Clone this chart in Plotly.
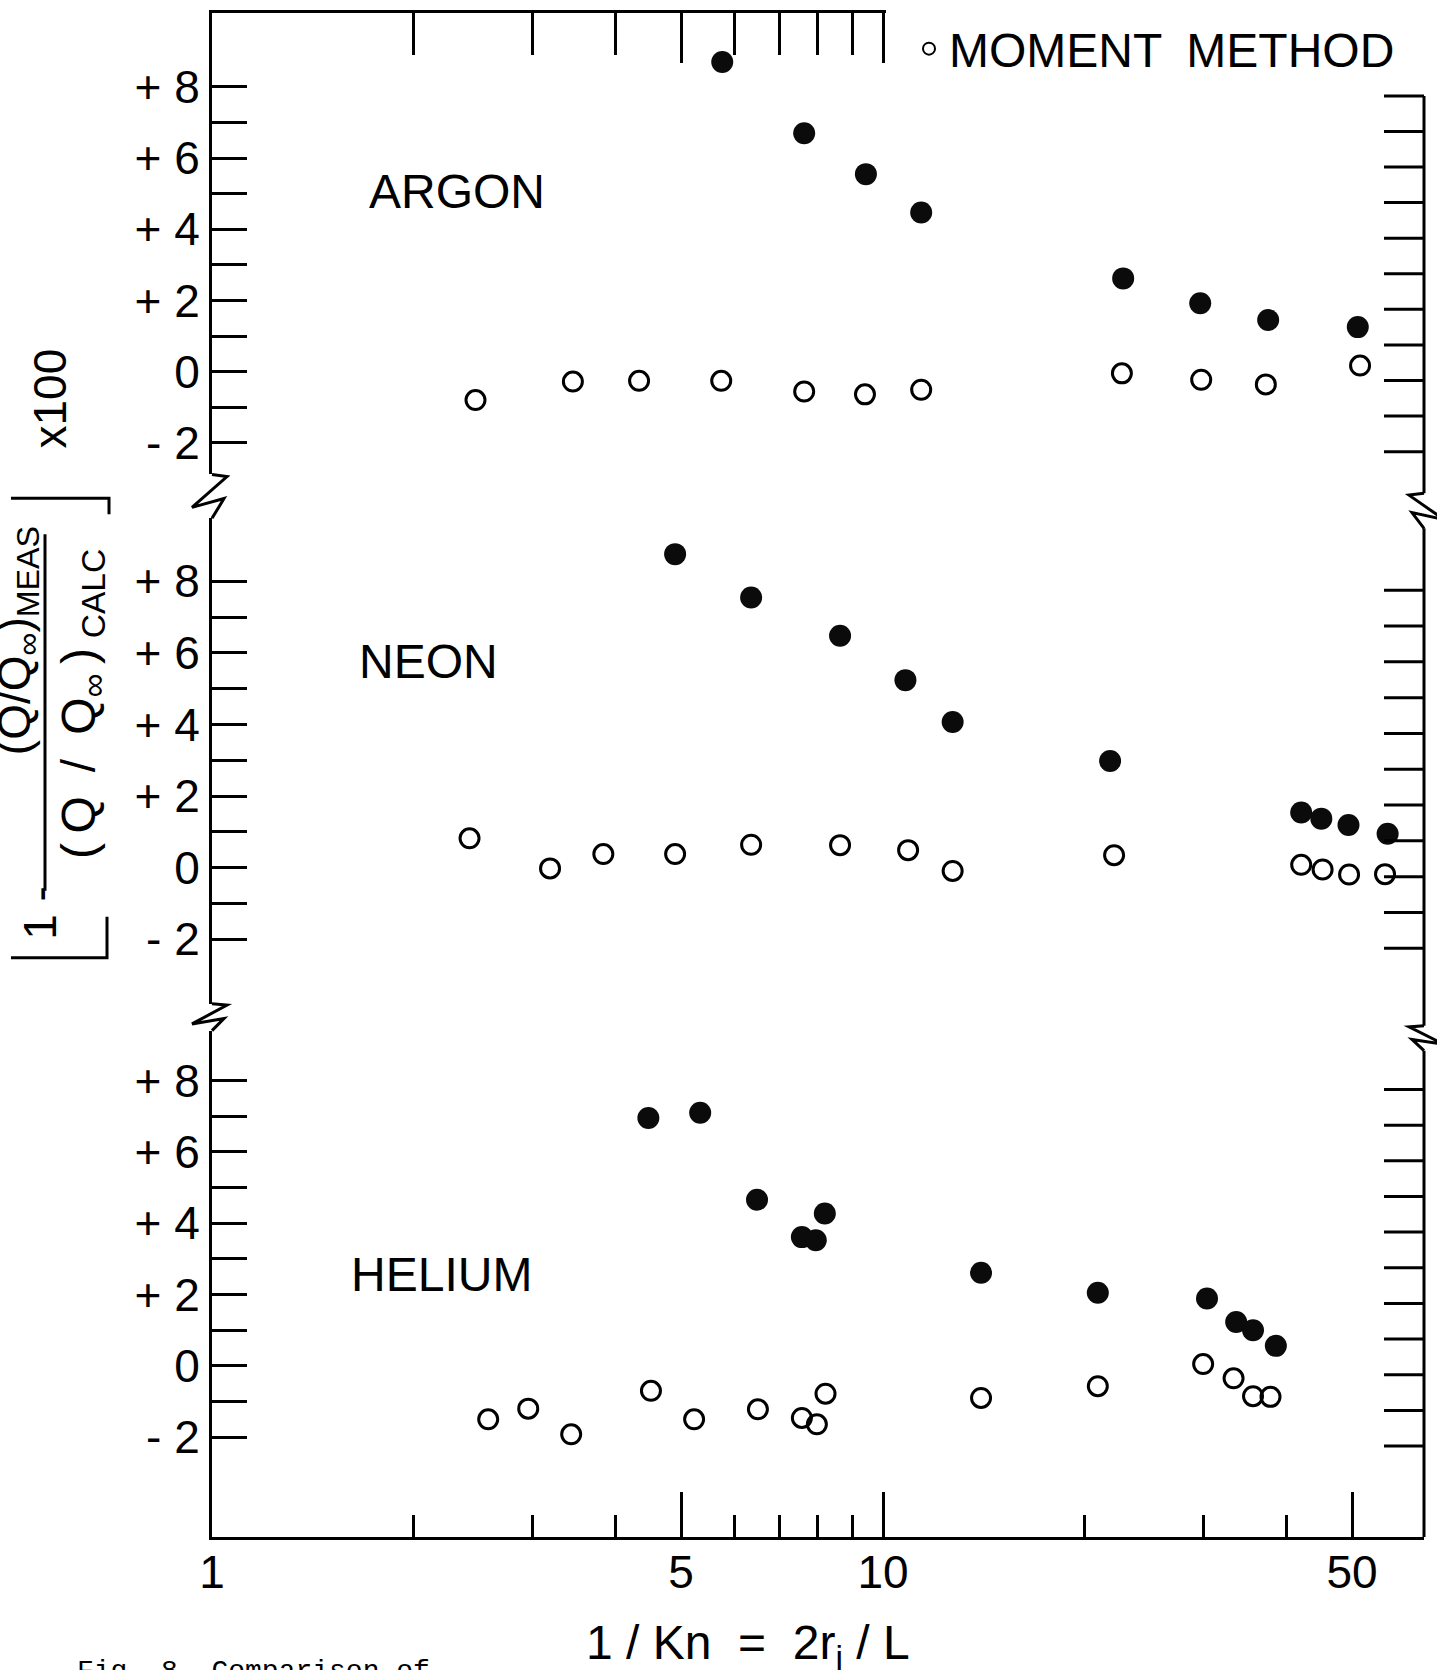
import math
import plotly.graph_objects as go

# ---------------- data ----------------
# x = 1/Kn = 2 r_j / L ; y = [1 - (Q/Qinf)meas / (Q/Qinf)calc] x 100
ARGON_MOMENT_X = [2.47, 3.45, 4.33, 5.74, 7.63, 9.40, 11.4, 22.7, 29.8, 37.2, 51.4]
ARGON_MOMENT_Y = [-0.80, -0.28, -0.26, -0.26, -0.56, -0.64, -0.51, -0.05, -0.23, -0.36, 0.17]
ARGON_OTHER_X = [5.76, 7.63, 9.43, 11.4, 22.8, 29.7, 37.5, 51.0]
ARGON_OTHER_Y = [8.70, 6.70, 5.55, 4.47, 2.62, 1.92, 1.45, 1.25]

NEON_MOMENT_X = [2.42, 3.19, 3.83, 4.90, 6.36, 8.63, 10.9, 12.7, 22.1, 42.0, 45.2, 49.5, 56.0]
NEON_MOMENT_Y = [0.82, -0.02, 0.38, 0.38, 0.64, 0.63, 0.49, -0.09, 0.35, 0.08, -0.05, -0.19, -0.18]
NEON_OTHER_X = [4.90, 6.36, 8.63, 10.8, 12.7, 21.8, 42.0, 45.0, 49.4, 56.5]
NEON_OTHER_Y = [8.76, 7.55, 6.48, 5.24, 4.07, 2.98, 1.54, 1.37, 1.19, 0.95]

HELIUM_MOMENT_X = [2.58, 2.96, 3.43, 4.51, 5.23, 6.51, 7.57, 7.97, 8.21, 14.0, 20.9, 30.0, 33.3, 35.6, 37.8]
HELIUM_MOMENT_Y = [-1.50, -1.20, -1.92, -0.70, -1.50, -1.22, -1.46, -1.64, -0.78, -0.90, -0.57, 0.05, -0.35, -0.85, -0.87]
HELIUM_OTHER_X = [4.47, 5.34, 6.49, 7.57, 7.94, 8.19, 14.0, 20.9, 30.4, 33.6, 35.6, 38.5]
HELIUM_OTHER_Y = [6.95, 7.10, 4.66, 3.61, 3.52, 4.27, 2.61, 2.05, 1.89, 1.23, 1.00, 0.56]

PANEL_NAMES = ["ARGON", "NEON", "HELIUM"]
LEGEND_NAME = "MOMENT\u2002METHOD"

X_MAJOR = [1, 5, 10, 50]
X_MAJOR_LABELS = ["1", "5", "10", "50"]
X_MINOR = [2, 3, 4, 6, 7, 8, 9, 20, 30, 40]
TOP_MAJOR = [5, 10]
TOP_MINOR = [2, 3, 4, 6, 7, 8, 9]
Y_TICKS = [-2, -1, 0, 1, 2, 3, 4, 5, 6, 7, 8]
Y_LABELS = ["- 2", "", "0", "", "+ 2", "", "+ 4", "", "+ 6", "", "+ 8"]
RIGHT_TICK_SKEW = 0.25   # the scanned original is slightly rotated

# ---------------- geometry ----------------
W, H = 1437, 1670
L, R, T, B = 212, 13, 11, 133
PW, PH = W - L - R, H - T - B
DECADE = 671.0
FONT = "Liberation Sans"


def px(p):
    return (p - L) / PW


def py(p):
    return (H - B - p) / PH


fig = go.Figure()

panels = [
    ("y3", ARGON_MOMENT_X, ARGON_MOMENT_Y, ARGON_OTHER_X, ARGON_OTHER_Y),
    ("y2", NEON_MOMENT_X, NEON_MOMENT_Y, NEON_OTHER_X, NEON_OTHER_Y),
    ("y", HELIUM_MOMENT_X, HELIUM_MOMENT_Y, HELIUM_OTHER_X, HELIUM_OTHER_Y),
]
for i, (ya, mx, my, ox, oy) in enumerate(panels):
    fig.add_trace(go.Scatter(
        x=ox, y=oy, xaxis="x", yaxis=ya, mode="markers", name="other",
        showlegend=False,
        marker=dict(symbol="circle", size=22, color="#0b0b0b")))
    fig.add_trace(go.Scatter(
        x=mx, y=my, xaxis="x", yaxis=ya, mode="markers", name=LEGEND_NAME,
        showlegend=(i == 0),
        marker=dict(symbol="circle-open", size=19, color="black",
                    line=dict(width=3, color="black"))))

common = dict(showgrid=False, zeroline=False, showline=True, linecolor="black",
              linewidth=3, ticks="inside", tickcolor="black", tickwidth=3)
yleft = dict(common, anchor="x", side="left", tickmode="array", tickvals=Y_TICKS,
             ticktext=Y_LABELS, ticklen=35, tickfont=dict(size=46, family=FONT, color="black"))

xmax_log = PW / DECADE
top_end = math.log10(10.1)

# decorative axes (top border, bottom minor ticks) need a trace to be drawn
fig.add_trace(go.Scatter(x=[None], y=[None], xaxis="x2", yaxis="y3", mode="markers",
                         showlegend=False, hoverinfo="skip"))
fig.add_trace(go.Scatter(x=[None], y=[None], xaxis="x3", yaxis="y", mode="markers",
                         showlegend=False, hoverinfo="skip"))

fig.update_layout(
    width=W, height=H,
    margin=dict(l=L, r=R, t=T, b=B),
    paper_bgcolor="white", plot_bgcolor="rgba(0,0,0,0)",
    font=dict(family=FONT, color="black", size=46),
    xaxis=dict(common, type="log", domain=[0, 1], range=[0, xmax_log], anchor="y",
               tickmode="array", tickvals=X_MAJOR, ticktext=X_MAJOR_LABELS, ticklen=45,
               tickfont=dict(size=46, family=FONT, color="black"), ticklabelstandoff=-7),
    xaxis2=dict(common, type="log", domain=[0, top_end / xmax_log], range=[0, top_end],
                anchor="y3", side="top", tickmode="array", tickvals=TOP_MAJOR, ticklen=50,
                showticklabels=False,
                minor=dict(tickmode="array", tickvals=TOP_MINOR, ticks="inside", ticklen=42,
                           tickwidth=3, tickcolor="black")),
    xaxis3=dict(common, type="log", domain=[0, 1], range=[0, xmax_log], anchor="y",
                side="bottom", showline=False, tickmode="array", tickvals=X_MINOR,
                ticklen=22, showticklabels=False),
    yaxis=dict(yleft, domain=[0, py(1030)], range=[-4.80, 9.40]),
    yaxis2=dict(yleft, domain=[py(1003), py(517)], range=[-3.80, 9.76]),
    yaxis3=dict(yleft, domain=[py(473), 1], range=[-2.89, 10.08]),
    legend=dict(x=px(909), y=py(47), xanchor="left", yanchor="middle",
                font=dict(size=48, family=FONT, color="black"), itemsizing="constant",
                bgcolor="rgba(0,0,0,0)", borderwidth=0),
    showlegend=True,
)


def path(points):
    return "M " + " L ".join(f"{px(a):.5f},{py(b):.5f}" for a, b in points)


line_style = dict(color="black", width=3)
shapes = []
# right-hand axes (line segments + inward ticks), one per panel
RIGHT_X = W - R
for ya, top_px, bot_px in [("y3", 94, 492), ("y2", 527, 1025), ("y", 1050, H - B)]:
    shapes.append(dict(type="line", xref="paper", yref="paper", x0=1, x1=1,
                       y0=py(bot_px), y1=py(top_px), line=line_style))
    for v in Y_TICKS:
        shapes.append(dict(type="line", xref="paper", yref=ya, x0=px(RIGHT_X - 40), x1=1,
                           y0=v - RIGHT_TICK_SKEW, y1=v - RIGHT_TICK_SKEW, line=line_style))
# axis breaks (zig-zags)
for ax_x, y0, y1, sgn in [(L, 473, 517, 1), (L, 1003, 1030, 1),
                          (RIGHT_X, 492, 527, -1), (RIGHT_X, 1025, 1050, -1)]:
    h = y1 - y0
    pts = [(ax_x, y0), (ax_x + sgn * 15, y0 + 0.05 * h), (ax_x - sgn * 20, y0 + 0.75 * h),
           (ax_x + sgn * 12, y0 + 0.55 * h), (ax_x, y1)]
    shapes.append(dict(type="path", xref="paper", yref="paper", path=path(pts), line=line_style))
# y title brackets and fraction bar
shapes.append(dict(type="path", xref="paper", yref="paper",
                   path=path([(11, 497), (109, 497), (109, 513)]), line=line_style))
shapes.append(dict(type="path", xref="paper", yref="paper",
                   path=path([(11, 957), (107, 957), (107, 916)]), line=line_style))
shapes.append(dict(type="path", xref="paper", yref="paper",
                   path=path([(45, 533), (45, 890)]), line=line_style))
fig.update_layout(shapes=shapes)

ann = []


def add_text(text, x, y, size=46, angle=0, xanchor="center", family=FONT):
    ann.append(dict(text=text, x=px(x), y=py(y), xref="paper", yref="paper",
                    xanchor=xanchor, yanchor="middle", textangle=angle, showarrow=False,
                    font=dict(size=size, family=family, color="black")))


for name, (xx, yy) in zip(PANEL_NAMES, [(367, 190), (357, 660), (349, 1274)]):
    add_text(name, xx, yy, size=48, xanchor="left")
add_text("1 / Kn  =  2r<sub>j</sub> / L", 748, 1646, size=48)
add_text("x100", 50, 397, angle=-90)
add_text("(\u2009Q\u2002/\u2002Q<sub>\u221e</sub>\u2009)\u2009<sub>CALC</sub>", 82, 703, size=48, angle=-90)
add_text("(Q/Q<sub>\u221e</sub>)<sub>MEAS</sub>", 17, 640, angle=-90)
add_text("1 -", 40, 912, angle=-90)
add_text("Fig. 8. Comparison of", 75, 1672, size=28, xanchor="left", family="Liberation Mono")
fig.update_layout(annotations=ann)

fig.write_html("out.html")
